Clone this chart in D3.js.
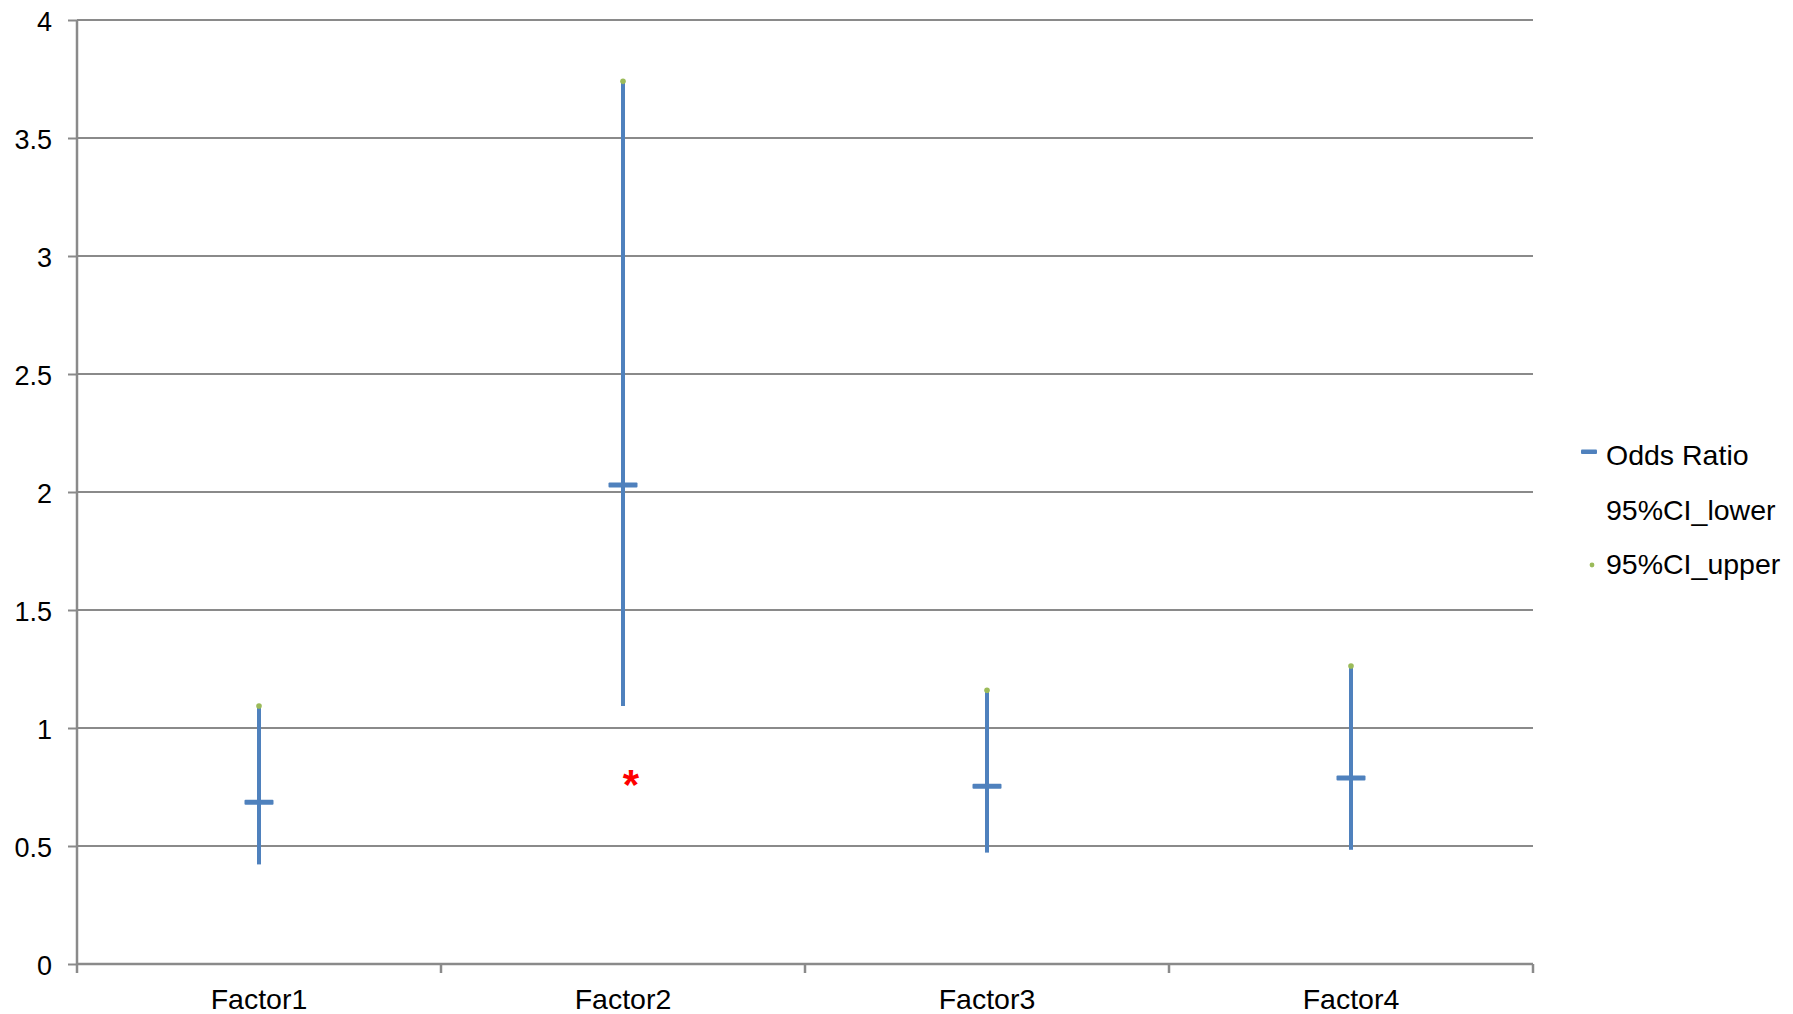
<!DOCTYPE html>
<html>
<head>
<meta charset="utf-8">
<script src="https://cdn.jsdelivr.net/npm/d3@7"></script>
<style>
  html, body { margin: 0; padding: 0; background: #fff; }
  svg { display: block; font-family: "Liberation Sans", Arial, sans-serif; }
</style>
</head>
<body>
<svg id="chart" width="1793" height="1014"></svg>
<script>
// Odds ratios with 95% confidence intervals per factor
const categories = ["Factor1", "Factor2", "Factor3", "Factor4"];
const oddsRatio = [0.685, 2.03, 0.753, 0.788];
const ciLower = [0.422, 1.093, 0.472, 0.484];
const ciUpper = [1.093, 3.74, 1.16, 1.263];
const yTicks = [0, 0.5, 1, 1.5, 2, 2.5, 3, 3.5, 4];
const seriesNames = ["Odds Ratio", "95%CI_lower", "95%CI_upper"];
// significance marks placed next to a factor
const sigCategories = ["Factor2"];
const sigValues = [0.79];
const sigTexts = ["*"];

const svg = d3.select("#chart");
const margin = { left: 77, right: 260, top: 20, bottom: 50 };
const W = 1793, H = 1014;
const plotW = W - margin.left - margin.right;   // 1456
const plotH = H - margin.top - margin.bottom;   // 944

const x = d3.scaleBand().domain(categories).range([margin.left, margin.left + plotW]).padding(0);
const y = d3.scaleLinear().domain([0, 4]).range([margin.top + plotH, margin.top]);

const gridColor = "#8a8a8a";
const blue = "#4f81bd";
const green = "#9bbb59";

// horizontal gridlines
svg.append("g")
  .selectAll("line")
  .data(yTicks.filter(d => d > 0))
  .join("line")
  .attr("x1", margin.left).attr("x2", margin.left + plotW)
  .attr("y1", d => y(d)).attr("y2", d => y(d))
  .attr("stroke", gridColor).attr("stroke-width", 2);

// y axis
const yAxis = svg.append("g")
  .attr("transform", `translate(${margin.left},0)`)
  .call(d3.axisLeft(y).tickValues(yTicks).tickFormat(d3.format("")).tickSize(9).tickPadding(16));
yAxis.select(".domain").attr("stroke", gridColor).attr("stroke-width", 2.5)
  .attr("d", `M0,${y(4)}V${y(0)}`);
yAxis.selectAll(".tick line").attr("stroke", gridColor).attr("stroke-width", 2);
yAxis.selectAll(".tick text")
  .attr("font-size", 27).attr("fill", "#000")
  .attr("font-family", "Liberation Sans, Arial, sans-serif")
  .attr("dy", "0.4em");

// x axis with ticks at category boundaries
const xAxisG = svg.append("g").attr("transform", `translate(0,${y(0)})`);
xAxisG.append("line")
  .attr("x1", margin.left).attr("x2", margin.left + plotW)
  .attr("y1", 0).attr("y2", 0)
  .attr("stroke", gridColor).attr("stroke-width", 2.5);
const boundaries = categories.map(c => x(c)).concat([x(categories[categories.length - 1]) + x.bandwidth()]);
xAxisG.selectAll("line.tk")
  .data(boundaries)
  .join("line").attr("class", "tk")
  .attr("x1", d => d).attr("x2", d => d)
  .attr("y1", 0).attr("y2", 9)
  .attr("stroke", gridColor).attr("stroke-width", 2.5);
xAxisG.selectAll("text")
  .data(categories)
  .join("text")
  .attr("x", d => x(d) + x.bandwidth() / 2)
  .attr("y", 44.5)
  .attr("text-anchor", "middle")
  .attr("font-size", 28.5)
  .attr("fill", "#000")
  .text(d => d);

const cx = c => x(c) + x.bandwidth() / 2;

// high-low lines from lower to upper CI
svg.append("g")
  .selectAll("line")
  .data(categories)
  .join("line")
  .attr("x1", c => cx(c)).attr("x2", c => cx(c))
  .attr("y1", (c, i) => y(ciLower[i])).attr("y2", (c, i) => y(ciUpper[i]))
  .attr("stroke", blue).attr("stroke-width", 4);

// odds ratio dash markers
svg.append("g")
  .selectAll("rect")
  .data(categories)
  .join("rect")
  .attr("x", c => cx(c) - 14.5)
  .attr("y", (c, i) => y(oddsRatio[i]) - 2.5)
  .attr("width", 29).attr("height", 5)
  .attr("rx", 1)
  .attr("fill", blue);

// upper CI point markers
svg.append("g")
  .selectAll("circle")
  .data(categories)
  .join("circle")
  .attr("cx", c => cx(c))
  .attr("cy", (c, i) => y(ciUpper[i]))
  .attr("r", 2.8)
  .attr("fill", green);

// significance asterisks
svg.append("g")
  .selectAll("text")
  .data(sigCategories)
  .join("text")
  .attr("x", (c, i) => cx(c) + 8)
  .attr("y", (c, i) => y(sigValues[i]) + 21)
  .attr("text-anchor", "middle")
  .attr("font-size", 42)
  .attr("font-weight", "bold")
  .attr("fill", "#ff0000")
  .text((c, i) => sigTexts[i]);

// legend
const legend = svg.append("g").attr("transform", "translate(1606,0)");
const legendY = [455, 510, 564];
legend.selectAll("text")
  .data(seriesNames)
  .join("text")
  .attr("x", 0)
  .attr("y", (d, i) => legendY[i])
  .attr("dy", "0.36em")
  .attr("font-size", 28.5)
  .attr("fill", "#000")
  .text(d => d);
legend.append("rect")
  .attr("x", -25).attr("y", legendY[0] - 5.5)
  .attr("width", 16).attr("height", 4.5).attr("rx", 1)
  .attr("fill", blue);
legend.append("circle")
  .attr("cx", -14).attr("cy", legendY[2] + 1)
  .attr("r", 2.4)
  .attr("fill", green);
</script>
</body>
</html>
